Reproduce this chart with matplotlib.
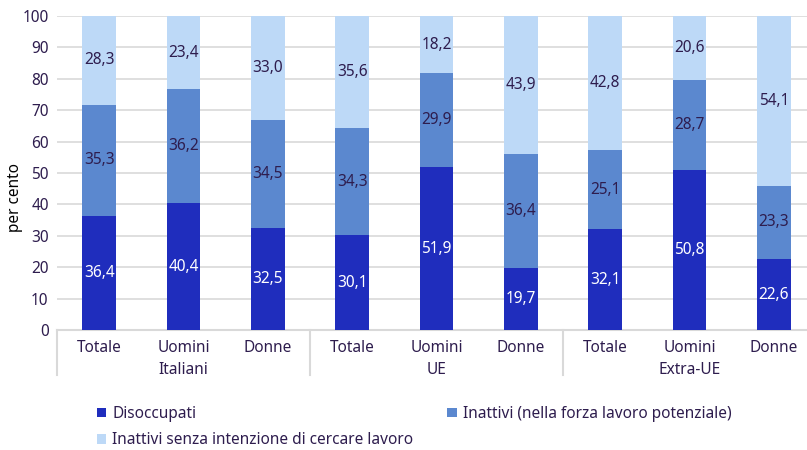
import matplotlib
matplotlib.use("Agg")
import matplotlib.pyplot as plt
import matplotlib.transforms as mtransforms
import numpy as np

categories = ["Totale", "Uomini", "Donne", "Totale", "Uomini", "Donne", "Totale", "Uomini", "Donne"]
groups = ["Italiani", "UE", "Extra-UE"]
disoccupati = [36.4, 40.4, 32.5, 30.1, 51.9, 19.7, 32.1, 50.8, 22.6]
inattivi_fl = [35.3, 36.2, 34.5, 34.3, 29.9, 36.4, 25.1, 28.7, 23.3]
inattivi_senza = [28.3, 23.4, 33.0, 35.6, 18.2, 43.9, 42.8, 20.6, 54.1]
series_names = ["Disoccupati", "Inattivi (nella forza lavoro potenziale)",
                "Inattivi senza intenzione di cercare lavoro"]
yticks = [0, 10, 20, 30, 40, 50, 60, 70, 80, 90, 100]

c_dark = "#1f2dbd"
c_mid = "#5b88cf"
c_light = "#bdd9f7"
txt = "#2e1d4e"
grid_c = "#d9d9d9"

plt.rcParams['font.family'] = ['Noto Sans', 'DejaVu Sans']
fig = plt.figure(figsize=(8.07, 4.5), dpi=100)
ax = fig.add_axes([57/807, 1-330/450, (816-57)/807, 314/450])

x = np.arange(len(categories))
w = 0.40
d = np.array(disoccupati)
m = np.array(inattivi_fl)
top = 100 - d - m  # stack reaches 100
b1 = ax.bar(x, d, w, color=c_dark, label=series_names[0], zorder=3)
b2 = ax.bar(x, m, w, bottom=d, color=c_mid, label=series_names[1], zorder=3)
b3 = ax.bar(x, top, w, bottom=d+m, color=c_light, label=series_names[2], zorder=3)

fs = 11.1
def fmt(v):
    return f"{v:.1f}".replace(".", ",")
for i in range(len(x)):
    ax.text(x[i], d[i]/2, fmt(disoccupati[i]), ha="center", va="center", color="white", fontsize=fs, zorder=4)
    ax.text(x[i], d[i] + m[i]/2, fmt(inattivi_fl[i]), ha="center", va="center", color=txt, fontsize=fs, zorder=4)
    ax.text(x[i], d[i] + m[i] + top[i]/2, fmt(inattivi_senza[i]), ha="center", va="center", color=txt, fontsize=fs, zorder=4)

ax.set_xlim(-0.5, len(categories) - 0.5)
ax.set_ylim(0, 100)
ax.set_yticks(yticks)
ax.set_yticklabels([str(t) for t in yticks], fontsize=fs, color=txt)
ax.yaxis.grid(True, color=grid_c, linewidth=1.2, zorder=0)
ax.set_axisbelow(True)
for s in ["top", "right", "left"]:
    ax.spines[s].set_visible(False)
ax.spines["bottom"].set_color(grid_c)
ax.spines["bottom"].set_linewidth(1.5)
ax.tick_params(axis="y", length=0, pad=6)
ax.tick_params(axis="x", length=0, pad=7)
ax.set_xticks(x)
ax.set_xticklabels(categories, fontsize=fs, color=txt)

trans = mtransforms.blended_transform_factory(ax.transData, ax.transAxes)
for gi, g in enumerate(groups):
    ax.text(gi*3 + 1, -40/314, g, transform=trans, ha="center", va="center", fontsize=fs, color=txt)
for sx in [-0.5, 2.5, 5.5, 8.5]:
    ax.plot([sx, sx], [0, -45/314], transform=trans, color=grid_c, linewidth=1.5, clip_on=False)

fig.text(15/807, 1-197/450, "per cento", rotation=90, ha="center", va="center", fontsize=fs, color="black")

leg = fig.legend([b1, b3, b2], [series_names[0], series_names[2], series_names[1]],
                 ncol=2, loc="upper left", bbox_to_anchor=(97/807, 1-406/450),
                 frameon=False, fontsize=fs, handlelength=0.6, handleheight=0.6,
                 handletextpad=0.4, columnspacing=2.2, labelspacing=0.68,
                 borderaxespad=0, borderpad=0)
for t in leg.get_texts():
    t.set_color(txt)

fig.savefig("out.png", dpi=100)
